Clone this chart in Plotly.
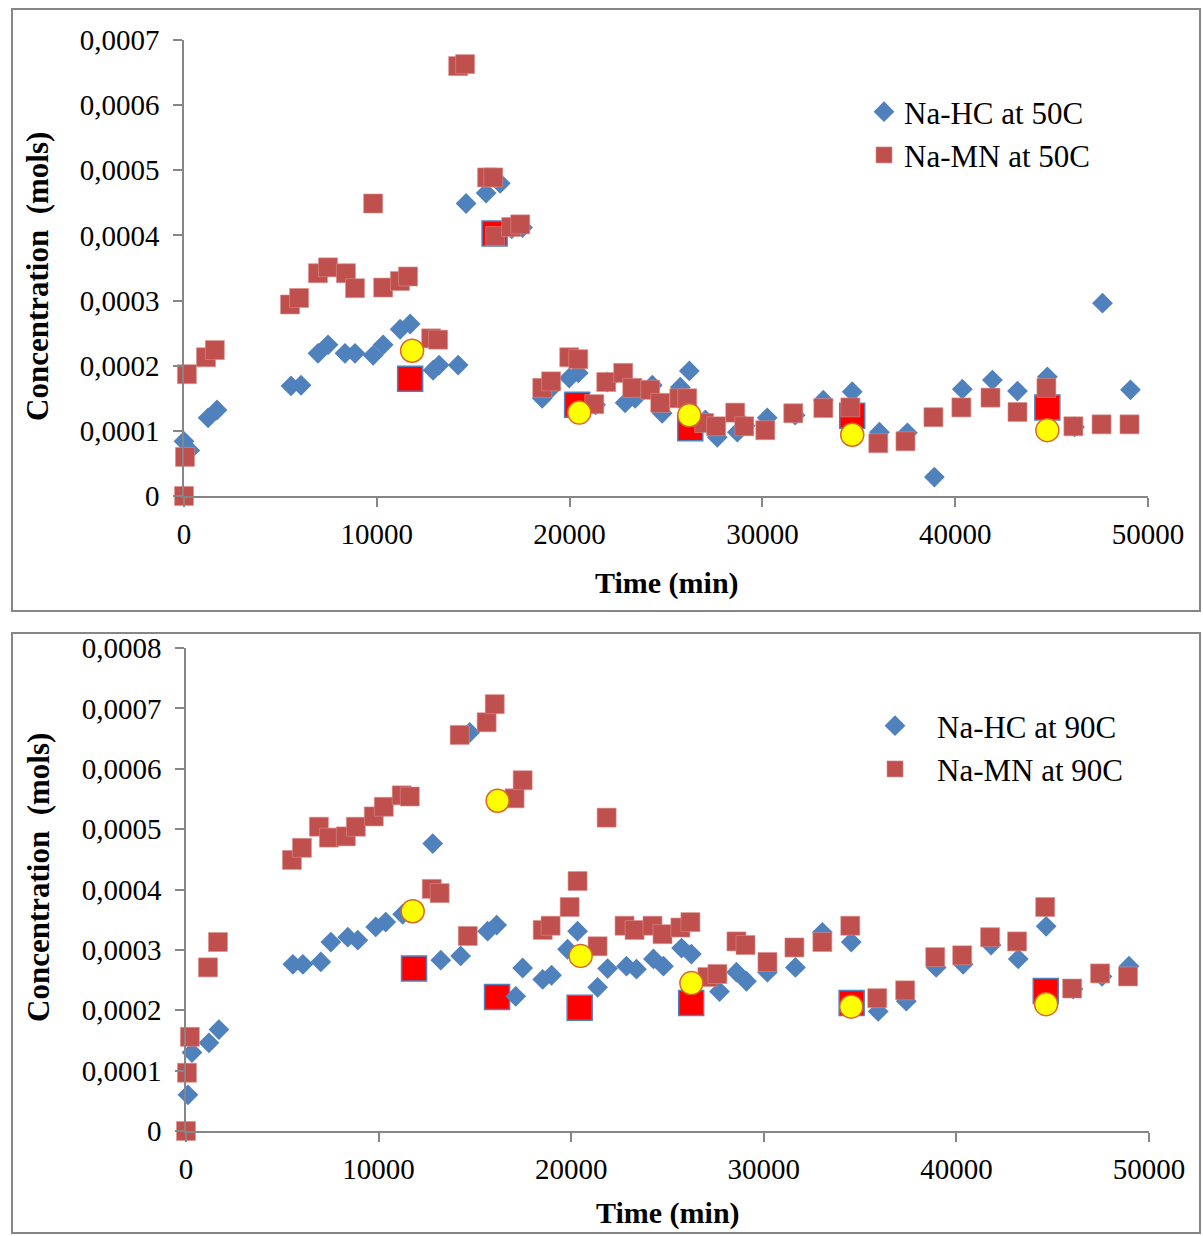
import plotly.graph_objects as go

# ---------------- data ----------------
# Panel 1: 50 C
t_hc50 = [0, 300, 1250, 1710, 5550, 6070, 6950, 7470, 8350, 8870, 9810, 10330, 11210, 11730,
          12920, 13230, 14220, 14630, 15670, 16400, 17000, 17560, 18580, 19040, 19980, 20450,
          21350, 21950, 22880, 23400, 24290, 24800, 25740, 26210, 27040, 27660, 28700, 29100,
          30250, 31700, 33160, 34660, 36070, 37520, 38920, 40370, 41930, 43230, 44780, 46190,
          47640, 49090]
c_hc50 = [0.000084, 0.00007, 0.00012, 0.000132, 0.000169, 0.00017, 0.000219, 0.000232, 0.000219,
          0.000219, 0.000216, 0.000232, 0.000256, 0.000264, 0.000193, 0.000201, 0.000201, 0.000449,
          0.000465, 0.00048, 0.00041, 0.000412, 0.00015, 0.000165, 0.000181, 0.000189, 0.00014,
          0.000175, 0.000143, 0.00015, 0.00017, 0.000127, 0.000167, 0.000192, 0.000117, 0.00009,
          0.000098, 0.000108, 0.00012, 0.000124, 0.000147, 0.00016, 0.000098, 0.000097, 0.000029,
          0.000164, 0.000178, 0.000161, 0.000183, 0.000106, 0.000296, 0.000163]

t_mn50 = [0, 50, 150, 1140, 1600, 5500, 5970, 6950, 7470, 8400, 8870, 9810, 10330, 11200, 11620,
          12820, 13180, 14220, 14580, 15720, 16040, 16140, 16970, 17440, 18580, 19040, 19980,
          20450, 21280, 21900, 22780, 23250, 24180, 24700, 25690, 26100, 26980, 27600, 28590,
          29060, 30150, 31600, 33160, 34560, 36010, 37420, 38870, 40320, 41830, 43230, 44730,
          46130, 47590, 49040]
c_mn50 = [0.0, 0.00006, 0.000187, 0.000213, 0.000224, 0.000294, 0.000304, 0.000342, 0.000351,
          0.000342, 0.000319, 0.000449, 0.00032, 0.00033, 0.000337, 0.000242, 0.00024, 0.00066,
          0.000663, 0.000489, 0.000489, 0.000399, 0.000413, 0.000417, 0.000166, 0.000176,
          0.000213, 0.00021, 0.000141, 0.000175, 0.000189, 0.000166, 0.000163, 0.000143, 0.00015,
          0.00015, 0.000112, 0.000107, 0.000128, 0.000107, 0.000101, 0.000127, 0.000135,
          0.000136, 0.000081, 0.000084, 0.000121, 0.000136, 0.000151, 0.000129, 0.000166,
          0.000107, 0.00011, 0.00011]

t_red50 = [11730, 16110, 20390, 26260, 34660, 44780]
c_red50 = [0.00018, 0.000403, 0.00014, 0.000104, 0.000123, 0.000136]
t_yel50 = [11830, 20500, 26210, 34660, 44780]
c_yel50 = [0.000223, 0.000128, 0.000124, 0.000094, 0.000101]

# Panel 2: 90 C
t_hc90 = [100, 310, 1190, 1710, 5550, 6070, 7000, 7520, 8400, 8920, 9850, 10370, 11250, 11700,
          12810, 13230, 14260, 14730, 15660, 16130, 17120, 17480, 18520, 18980, 19810, 20330,
          21370, 21890, 22870, 23390, 24270, 24790, 25730, 26240, 27700, 28580, 29100, 30190,
          31640, 33040, 34540, 35940, 37400, 38950, 40350, 41800, 43210, 44660, 46060, 47560,
          48960]
c_hc90 = [0.00006, 0.00013, 0.000146, 0.000168, 0.000276, 0.000276, 0.00028, 0.000313, 0.000321,
          0.000316, 0.000338, 0.000346, 0.000359, 0.000365, 0.000476, 0.000283, 0.00029, 0.00066,
          0.000331, 0.000341, 0.000223, 0.00027, 0.000251, 0.000258, 0.000301, 0.000331,
          0.000238, 0.000269, 0.000273, 0.000268, 0.000285, 0.000273, 0.000303, 0.000293,
          0.000231, 0.000263, 0.000248, 0.000263, 0.000271, 0.000329, 0.000313, 0.000198,
          0.000215, 0.000271, 0.000276, 0.000308, 0.000285, 0.000339, 0.000235, 0.000256,
          0.000273]

t_mn90 = [0, 50, 200, 1140, 1660, 5500, 6020, 6900, 7420, 8300, 8820, 9750, 10270, 11200, 11620,
          12760, 13170, 14210, 14630, 15610, 16030, 17060, 17480, 18520, 18930, 19920, 20330,
          21370, 21840, 22770, 23290, 24220, 24740, 25670, 26190, 27070, 27590, 28580, 29050,
          30190, 31590, 33040, 34490, 35890, 37340, 38900, 40300, 41750, 43150, 44610, 46010,
          47460, 48910]
c_mn90 = [0.0, 0.0000965, 0.000156, 0.000271, 0.000313, 0.000449, 0.000469, 0.000504, 0.000486,
          0.000488, 0.000504, 0.000521, 0.000537, 0.000556, 0.000554, 0.000401, 0.000394,
          0.000656, 0.000323, 0.000677, 0.000707, 0.000551, 0.000581, 0.000333, 0.00034,
          0.000371, 0.000414, 0.000306, 0.000519, 0.00034, 0.000333, 0.00034, 0.000326, 0.000337,
          0.000346, 0.000255, 0.00026, 0.000314, 0.000308, 0.00028, 0.000304, 0.000313, 0.00034,
          0.00022, 0.000233, 0.000288, 0.000291, 0.000321, 0.000314, 0.000371, 0.000236,
          0.000261, 0.000256]

t_red90 = [11840, 16150, 20440, 26230, 34560, 44640]
c_red90 = [0.000269, 0.000222, 0.000204, 0.000212, 0.000212, 0.000232]
t_yel90 = [11770, 16180, 20490, 26240, 34540, 44660]
c_yel90 = [0.000364, 0.000547, 0.00029, 0.000245, 0.000206, 0.00021]

# ticks
x_ticks = [0, 10000, 20000, 30000, 40000, 50000]
x_tick_text = ["0", "10000", "20000", "30000", "40000", "50000"]
y_ticks_50 = [0, 0.0001, 0.0002, 0.0003, 0.0004, 0.0005, 0.0006, 0.0007]
y_ticks_90 = [0, 0.0001, 0.0002, 0.0003, 0.0004, 0.0005, 0.0006, 0.0007, 0.0008]


def comma_label(v):
    return "0" if v == 0 else f"{v:.4f}".replace(".", ",")


# ---------------- styles ----------------
W, H = 1203, 1236
BLUE = "#4F81BD"
BROWN = "#C0504D"
AXIS = "#868686"
FONT = "Liberation Serif"

fig = go.Figure()


def add_panel(xa, ya, t_hc, c_hc, t_mn, c_mn, t_red, c_red, t_yel, c_yel, temp, legend):
    fig.add_trace(go.Scatter(x=t_red, y=c_red, mode="markers", showlegend=False,
                             xaxis=xa, yaxis=ya, cliponaxis=False,
                             marker=dict(symbol="square", size=25, color="#FF0000",
                                         line=dict(color=BLUE, width=1.5))))
    fig.add_trace(go.Scatter(x=t_hc, y=c_hc, mode="markers", name=f"Na-HC at {temp}",
                             xaxis=xa, yaxis=ya, legend=legend, cliponaxis=False,
                             marker=dict(symbol="diamond", size=16, color=BLUE)))
    fig.add_trace(go.Scatter(x=t_mn, y=c_mn, mode="markers", name=f"Na-MN at {temp}",
                             xaxis=xa, yaxis=ya, legend=legend, cliponaxis=False,
                             marker=dict(symbol="square", size=19, color=BROWN,
                                         line=dict(color="#D98F8C", width=0.6))))
    fig.add_trace(go.Scatter(x=t_yel, y=c_yel, mode="markers", showlegend=False,
                             xaxis=xa, yaxis=ya, cliponaxis=False,
                             marker=dict(symbol="circle", size=23, color="#FFFF00",
                                         line=dict(color="#D9662B", width=1.5))))


add_panel("x", "y", t_hc50, c_hc50, t_mn50, c_mn50, t_red50, c_red50, t_yel50, c_yel50,
          "50C", "legend")
add_panel("x2", "y2", t_hc90, c_hc90, t_mn90, c_mn90, t_red90, c_red90, t_yel90, c_yel90,
          "90C", "legend2")

# plot-area pixel boxes (left, top, right, bottom)
box1 = (184, 40, 1148, 496)
box2 = (186, 648, 1149, 1131)


def xdom(b):
    return [b[0] / W, b[2] / W]


def ydom(b):
    return [1 - b[3] / H, 1 - b[1] / H]


axis_common = dict(showline=True, linecolor=AXIS, linewidth=1.5, ticks="outside",
                   ticklen=9, tickwidth=1.5, tickcolor=AXIS, showgrid=False, zeroline=False,
                   automargin=False,
                   tickfont=dict(family=FONT, size=29, color="black"))

legend_font = dict(family=FONT, size=31, color="black")

fig.update_layout(
    width=W, height=H,
    margin=dict(l=0, r=0, t=0, b=0, autoexpand=False),
    paper_bgcolor="white", plot_bgcolor="white",
    xaxis=dict(domain=xdom(box1), anchor="y", range=[0, 50000], tickvals=x_ticks,
               ticktext=x_tick_text, ticklabelstandoff=2, **axis_common),
    yaxis=dict(domain=ydom(box1), anchor="x", range=[0, 0.0007], tickvals=y_ticks_50,
               ticktext=[comma_label(v) for v in y_ticks_50], ticklabelstandoff=8,
               **axis_common),
    xaxis2=dict(domain=xdom(box2), anchor="y2", range=[0, 50000], tickvals=x_ticks,
                ticktext=x_tick_text, ticklabelstandoff=2, **axis_common),
    yaxis2=dict(domain=ydom(box2), anchor="x2", range=[0, 0.0008], tickvals=y_ticks_90,
                ticktext=[comma_label(v) for v in y_ticks_90], ticklabelstandoff=8,
                **axis_common),
    legend=dict(x=864 / W, y=1 - 85 / H, xanchor="left", yanchor="top",
                bgcolor="rgba(0,0,0,0)", font=legend_font, itemsizing="trace"),
    legend2=dict(x=853 / W, y=1 - 699 / H, xanchor="left", yanchor="top", itemwidth=74,
                 bgcolor="rgba(0,0,0,0)", font=legend_font, itemsizing="trace"),
    showlegend=True,
)

# panel frames
for (x0, y0, x1, y1) in [(12, 9, 1200, 611), (12, 633, 1200, 1233)]:
    fig.add_shape(type="rect", xref="paper", yref="paper",
                  x0=x0 / W, x1=x1 / W, y0=1 - y1 / H, y1=1 - y0 / H,
                  line=dict(color=AXIS, width=2), fillcolor="rgba(0,0,0,0)", layer="below")

# axis titles
for cx, cy in [(38, 277), (38, 878)]:
    fig.add_annotation(text="<b>Concentration  (mols)</b>", xref="paper", yref="paper",
                       x=cx / W, y=1 - cy / H, showarrow=False, textangle=-90,
                       font=dict(family=FONT, size=31, color="black"),
                       xanchor="center", yanchor="middle")
for cx, cy in [(667, 583), (668, 1213)]:
    fig.add_annotation(text="<b>Time (min)</b>", xref="paper", yref="paper",
                       x=cx / W, y=1 - cy / H, showarrow=False,
                       font=dict(family=FONT, size=30, color="black"),
                       xanchor="center", yanchor="middle")

fig.write_html("out.html")
